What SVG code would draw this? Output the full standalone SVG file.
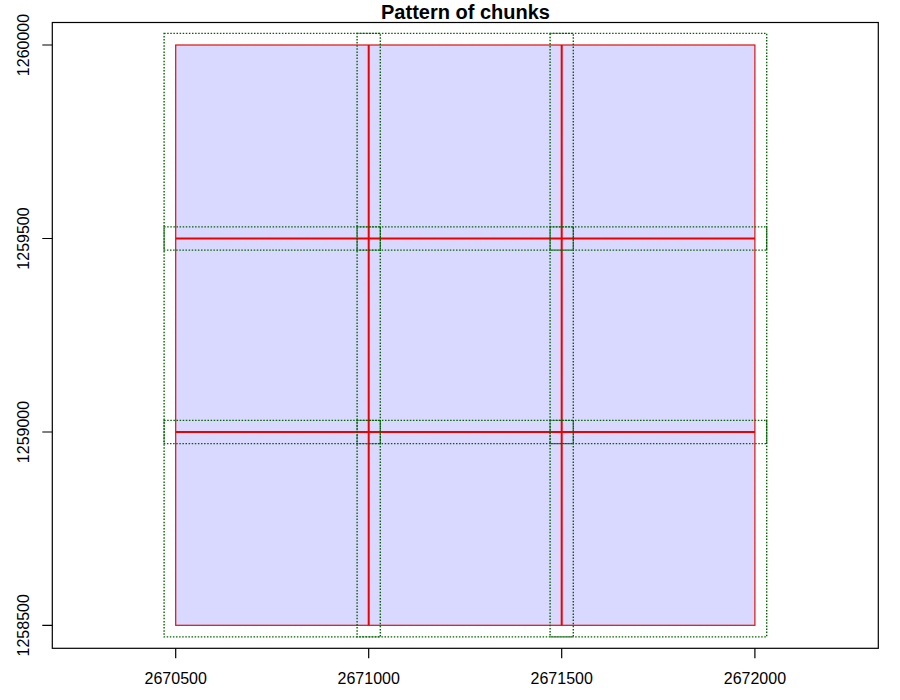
<svg xmlns="http://www.w3.org/2000/svg" width="900" height="700" viewBox="0 0 900 700">
<style>
text{font-family:"Liberation Sans",Arial,sans-serif;fill:#000}
.tick{font-size:16px}
.title{font-size:20px;font-weight:bold}
.axis{stroke:#000;stroke-width:1.2;fill:none}
.chunk{fill:none;stroke:#006400;stroke-width:1.4;stroke-dasharray:1.5 1.6}
.grid{stroke:#ee0000;stroke-width:2;fill:none}
</style>
<rect width="900" height="700" fill="#fff"/>
<text class="title" x="465.5" y="19" text-anchor="middle">Pattern of chunks</text>
<g id="axes">
<rect class="axis" x="52.3" y="22.5" width="826" height="625.8"/>
<path class="axis" d="M175.7 648.3v10M368.7 648.3v10M561.7 648.3v10M754.9 648.3v10M42.3 45h10M42.3 238.5h10M42.3 432h10M42.3 625.3h10"/>
<text class="tick" x="175.7" y="684" text-anchor="middle">2670500</text>
<text class="tick" x="368.7" y="684" text-anchor="middle">2671000</text>
<text class="tick" x="561.7" y="684" text-anchor="middle">2671500</text>
<text class="tick" x="754.9" y="684" text-anchor="middle">2672000</text>
<text class="tick" transform="translate(29,45) rotate(-90)" text-anchor="middle">1260000</text>
<text class="tick" transform="translate(29,238.5) rotate(-90)" text-anchor="middle">1259500</text>
<text class="tick" transform="translate(29,432) rotate(-90)" text-anchor="middle">1259000</text>
<text class="tick" transform="translate(29,625.3) rotate(-90)" text-anchor="middle">1258500</text>
</g>
<g id="area">
<rect x="175.7" y="45" width="579.2" height="580.3" fill="#d9d9ff" stroke="#dd1111" stroke-width="1.2"/>
</g>
<g id="tile-lines">
<path class="grid" d="M368.7 45V625.3M561.7 45V625.3M175.7 238.5H754.9M175.7 432H754.9"/>
</g>
<g id="chunks">
<rect class="chunk" x="164.1" y="33.4" width="216.2" height="216.7"/>
<rect class="chunk" x="357.1" y="33.4" width="216.2" height="216.7"/>
<rect class="chunk" x="550.1" y="33.4" width="216.6" height="216.7"/>
<rect class="chunk" x="164.1" y="226.9" width="216.2" height="216.7"/>
<rect class="chunk" x="357.1" y="226.9" width="216.2" height="216.7"/>
<rect class="chunk" x="550.1" y="226.9" width="216.6" height="216.7"/>
<rect class="chunk" x="164.1" y="420.4" width="216.2" height="216.5"/>
<rect class="chunk" x="357.1" y="420.4" width="216.2" height="216.5"/>
<rect class="chunk" x="550.1" y="420.4" width="216.6" height="216.5"/>
</g>
</svg>
